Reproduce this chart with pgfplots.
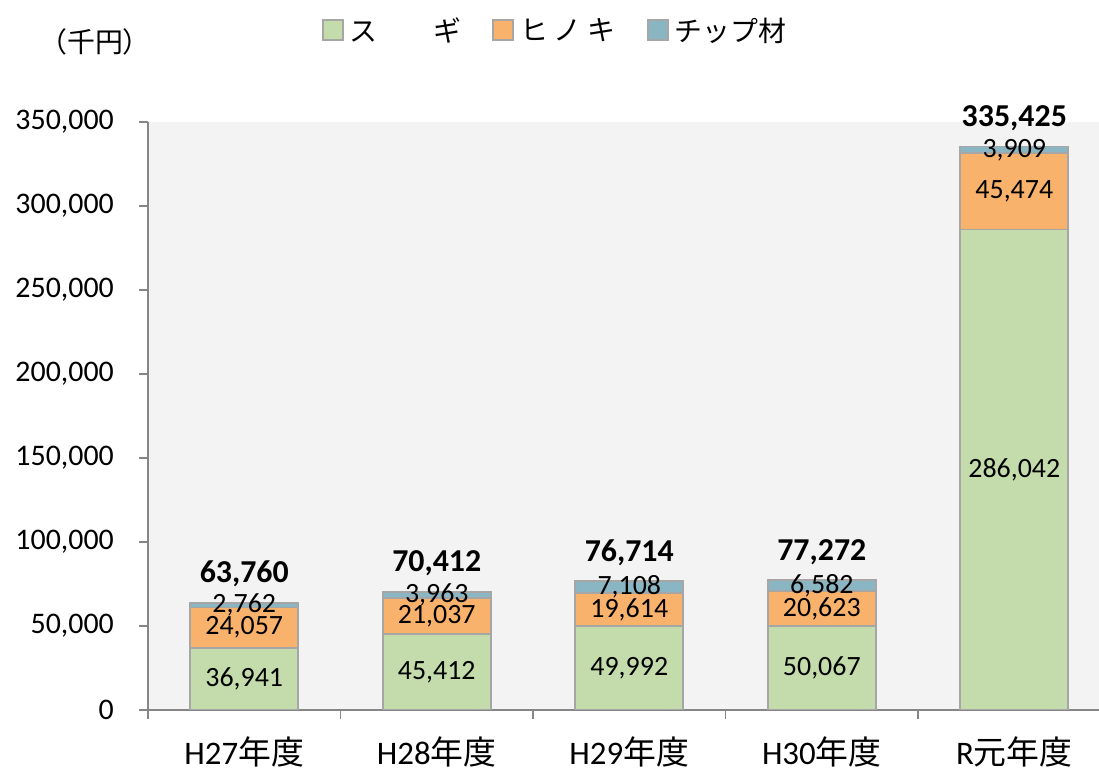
\documentclass[border=0pt]{standalone}
\usepackage{pgfplots}
\pgfplotsset{compat=1.18}
\usepackage{pgfplotstable}
\usepackage{fontspec}
\setmainfont{Carlito}
\newfontfamily\jp{Noto Sans CJK JP}
\definecolor{sugi}{HTML}{C4DBAB}
\definecolor{hinoki}{HTML}{F9B26C}
\definecolor{chip}{HTML}{8AB6C3}
\definecolor{edge}{HTML}{A6A6A6}
\definecolor{axgray}{HTML}{868686}
\definecolor{bg}{HTML}{F3F3F3}
\pgfplotstableread{
x s h c t
0 36941 24057 2762 63760
1 45412 21037 3963 70412
2 49992 19614 7108 76714
3 50067 20623 6582 77272
4 286042 45474 3909 335425
}\data
\pgfplotsset{
  common/.style={
    at={(0,0)}, anchor=south west,
    scale only axis, width=951bp, height=588bp,
    xmin=-0.5, xmax=4.44, ymin=0, ymax=350000,
  }
}
\begin{document}
\begin{tikzpicture}
\path[use as bounding box] (-148bp,-61bp) rectangle (951bp,710bp);
\begin{axis}[
  common,
  ybar stacked, bar width=108bp,
  legend image code/.code={\draw[#1, draw=edge, line width=1.8bp] (0bp,-10bp) rectangle (20bp,10bp);},
  point meta=explicit symbolic,
  nodes near coords={\pgfmathprintnumber[fixed,1000 sep={,},assume math mode=true]{\pgfplotspointmeta}},
  every node near coord/.style={
      anchor=center, font=\fontsize{28}{28}\selectfont, text=black, inner sep=0pt
  },
  axis x line*=bottom, axis y line*=left,
  axis line style={axgray, line width=1.2bp},
  axis background/.style={fill=bg},
  tick align=outside, major tick length=9bp,
  tick style={axgray, line width=1.2bp},
  xtick={-0.5,0.5,1.5,2.5,3.5},
  xticklabels={H27{\jp 年度}, H28{\jp 年度}, H29{\jp 年度}, H30{\jp 年度}, R{\jp 元年度}},
  xticklabel style={anchor=base, inner sep=0pt, xshift=96.25bp, yshift=-45bp, font=\fontsize{33}{33}\selectfont},
  ytick={0,50000,...,350000},
  scaled y ticks=false,
  yticklabel style={/pgf/number format/.cd, fixed, 1000 sep={,}, assume math mode=true, /tikz/.cd, anchor=east, inner sep=0pt, xshift=-25bp, font=\fontsize{30}{30}\selectfont},
  ylabel={{\jp （千円）}},
  every axis y label/.style={at={(axis description cs:-0.0557,1.136)}, anchor=center, font=\fontsize{28}{28}\selectfont},
  legend style={at={(axis description cs:0.428,1.156)}, anchor=center, draw=none, fill=none, legend columns=3,
    font=\fontsize{28}{28}\selectfont, nodes={inner sep=2bp},
    /tikz/every odd column/.append style={column sep=4bp},
    /tikz/every even column/.append style={column sep=29bp}},
  legend entries={{\jp ス　　ギ}, {\jp ヒ\hspace{6bp}ノ\hspace{6bp}キ}, {\jp チップ材}},
]
\addplot[fill=sugi, draw=edge, line width=1.8bp] table[x=x,y=s,meta=s]{\data};
\addplot[fill=hinoki, draw=edge, line width=1.8bp] table[x=x,y=h,meta=h]{\data};
\addplot[fill=chip, draw=edge, line width=1.8bp] table[x=x,y=c,meta=c]{\data};
\end{axis}
\begin{axis}[common, hide axis]
\addplot[only marks, mark=none, draw=none,
  point meta=explicit symbolic,
  nodes near coords={\pgfmathprintnumber[fixed,1000 sep={,},assume math mode=true]{\pgfplotspointmeta}},
  nodes near coords align={center},
  every node near coord/.style={anchor=base, yshift=20bp, inner sep=0pt, text=black, font=\bfseries\fontsize{32}{32}\selectfont}]
  table[x=x,y=t,meta=t]{\data};
\end{axis}
\end{tikzpicture}
\end{document}
